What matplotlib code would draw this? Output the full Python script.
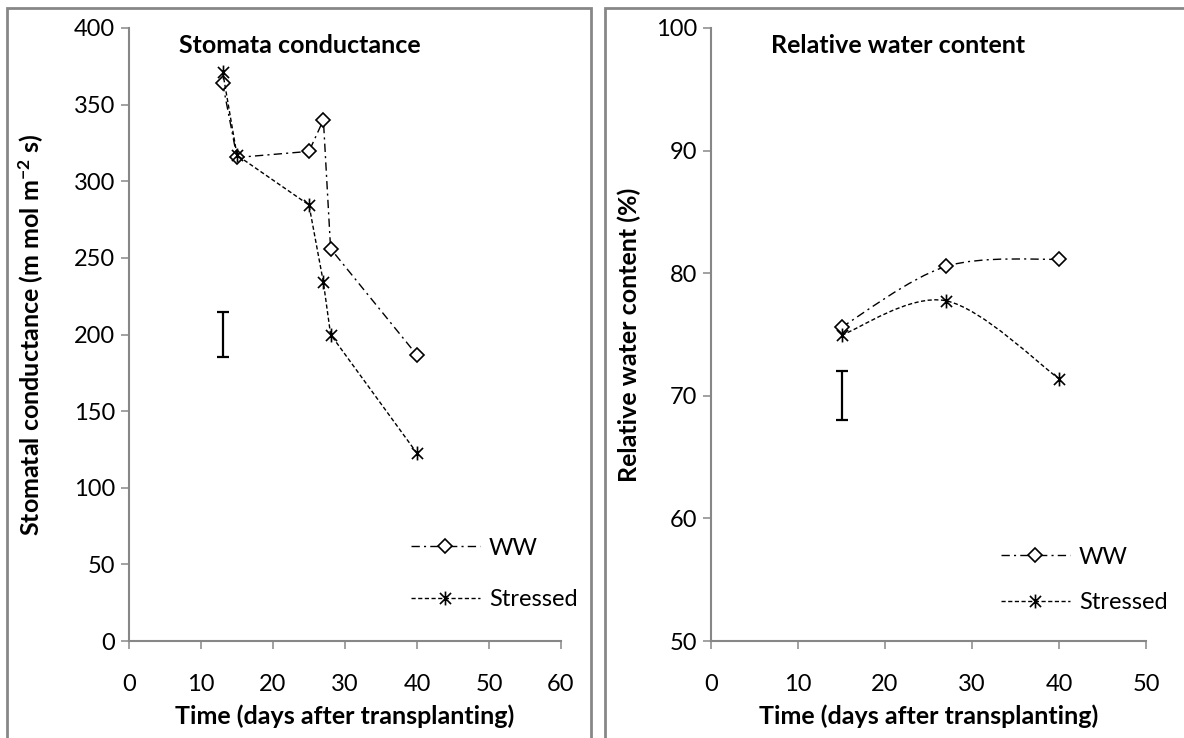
import numpy as np
import matplotlib
matplotlib.use('Agg')
import matplotlib.pyplot as plt
from matplotlib.path import Path
from matplotlib.patches import PathPatch, Rectangle
from matplotlib.lines import Line2D

plt.rcParams['font.family'] = ['Lato', 'DejaVu Sans']
plt.rcParams['mathtext.default'] = 'regular'

fs_tick = 17
fs_lab = 18
fs_leg = 17
grey = '#878787'

# stomatal conductance (left panel)
gs_days_ww = [13, 15, 25, 27, 28, 40]
gs_ww = [364, 315.5, 319.5, 340, 256, 186.5]
gs_days_st = [13, 15, 25, 27, 28, 40]
gs_st = [371.5, 317, 284.5, 234, 200, 122.5]
gs_err_x = 13
gs_err_lo, gs_err_hi = 185, 215

# relative water content (right panel)
rwc_days = [15, 27, 40]
rwc_ww = [75.6, 80.55, 81.15]
rwc_st = [74.95, 77.75, 71.4]
rwc_err_x = 15
rwc_err_lo, rwc_err_hi = 68, 72

star = Path([(-1, -1), (1, 1), (-1, 1), (1, -1), (0, -1.25), (0, 1.25)],
            [Path.MOVETO, Path.LINETO, Path.MOVETO, Path.LINETO,
             Path.MOVETO, Path.LINETO])

ww_style = dict(color='k', lw=1.0, ls=(0, (6, 3, 1.5, 3)), marker='D',
                ms=7.5, mfc='white', mec='k', mew=1.2)
st_style = dict(color='k', lw=1.0, ls=(0, (3, 1.8)), marker=star,
                ms=10, mec='k', mew=1.2)


def smooth_path(x, y):
    # excel-like smoothed line: catmull-rom segments as cubic beziers
    pts = np.column_stack([x, y]).astype(float)
    n = len(pts)
    verts = [pts[0]]
    codes = [Path.MOVETO]
    for i in range(n - 1):
        p0 = pts[max(i - 1, 0)]
        p1 = pts[i]
        p2 = pts[i + 1]
        p3 = pts[min(i + 2, n - 1)]
        verts += [p1 + (p2 - p0) / 6., p2 - (p3 - p1) / 6., p2]
        codes += [Path.CURVE4] * 3
    return Path(verts, codes)


def frame_axes(ax):
    for s in ['top', 'right']:
        ax.spines[s].set_visible(False)
    for s in ['left', 'bottom']:
        ax.spines[s].set_color(grey)
        ax.spines[s].set_linewidth(1.5)
    ax.tick_params(axis='both', direction='out', length=6, width=1.1,
                   color=grey, labelsize=fs_tick, labelcolor='k')
    ax.tick_params(axis='x', pad=17.5)
    ax.tick_params(axis='y', pad=4)


fig = plt.figure(figsize=(11.84, 7.38), dpi=100)

# panel borders
fig.patches.append(Rectangle((7 / 1184, -0.1), (591 - 7) / 1184, 1.1 - 8 / 738,
                             transform=fig.transFigure, fill=False,
                             ec=grey, lw=2))
fig.patches.append(Rectangle((605 / 1184, -0.1), 0.6, 1.1 - 8 / 738,
                             transform=fig.transFigure, fill=False,
                             ec=grey, lw=2))

ax1 = fig.add_axes([129 / 1184, 97 / 738, 432 / 1184, 613 / 738])
ax2 = fig.add_axes([711 / 1184, 97 / 738, 435 / 1184, 613 / 738])

# left panel
ax1.plot(gs_days_ww, gs_ww, label='WW', **ww_style)
ax1.plot(gs_days_st, gs_st, label='Stressed', **st_style)
ax1.errorbar([gs_err_x], [(gs_err_lo + gs_err_hi) / 2.],
             yerr=[(gs_err_hi - gs_err_lo) / 2.], fmt='none', ecolor='k',
             elinewidth=1.6, capsize=4.3, capthick=1.6)
ax1.set_xlim(0, 60)
ax1.set_ylim(0, 400)
ax1.set_xticks(np.arange(0, 61, 10))
ax1.set_yticks(np.arange(0, 401, 50))
frame_axes(ax1)
ax1.set_xlabel('Time (days after transplanting)', fontsize=fs_lab,
               fontweight='bold', labelpad=7)
ax1.set_ylabel('Stomatal conductance (m mol m$^{-2}$ s)', fontsize=fs_lab,
               fontweight='bold', labelpad=20)
ax1.text(0.116, 0.971, 'Stomata conductance', transform=ax1.transAxes,
         fontsize=fs_lab, fontweight='bold', va='center', ha='left')
ax1.legend(loc='lower left', bbox_to_anchor=(0.653, 0.05), frameon=False,
           fontsize=fs_leg, handlelength=2.9, handletextpad=0.4,
           labelspacing=1.3, borderpad=0, borderaxespad=0)

# right panel
for yv, style in [(rwc_ww, ww_style), (rwc_st, st_style)]:
    ax2.add_patch(PathPatch(smooth_path(rwc_days, yv), fill=False,
                            ec='k', lw=style['lw'], ls=style['ls']))
    ax2.plot(rwc_days, yv, ls='none', marker=style['marker'], ms=style['ms'],
             mfc=style.get('mfc', 'k'), mec='k', mew=style['mew'])
ax2.errorbar([rwc_err_x], [(rwc_err_lo + rwc_err_hi) / 2.],
             yerr=[(rwc_err_hi - rwc_err_lo) / 2.], fmt='none', ecolor='k',
             elinewidth=1.6, capsize=4.3, capthick=1.6)
ax2.set_xlim(0, 50)
ax2.set_ylim(50, 100)
ax2.set_xticks(np.arange(0, 51, 10))
ax2.set_yticks(np.arange(50, 101, 10))
frame_axes(ax2)
ax2.set_xlabel('Time (days after transplanting)', fontsize=fs_lab,
               fontweight='bold', labelpad=7)
ax2.set_ylabel('Relative water content (%)', fontsize=fs_lab,
               fontweight='bold', labelpad=11)
ax2.text(0.138, 0.971, 'Relative water content', transform=ax2.transAxes,
         fontsize=fs_lab, fontweight='bold', va='center', ha='left')
handles = [Line2D([], [], **ww_style), Line2D([], [], **st_style)]
ax2.legend(handles, ['WW', 'Stressed'], loc='lower left',
           bbox_to_anchor=(0.667, 0.045), frameon=False, fontsize=fs_leg,
           handlelength=2.9, handletextpad=0.4, labelspacing=1.05,
           borderpad=0, borderaxespad=0)

fig.savefig('out.png', dpi=100)
